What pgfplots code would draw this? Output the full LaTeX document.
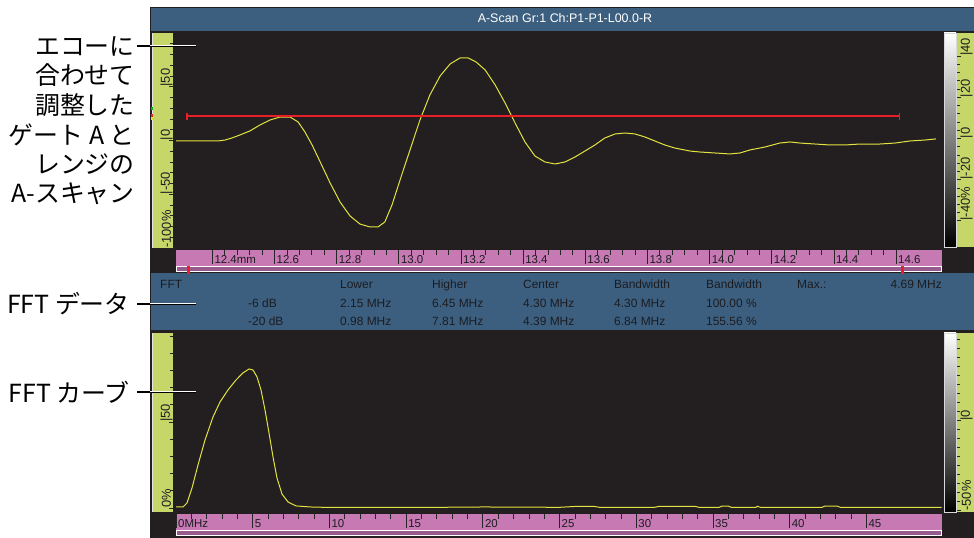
\documentclass[border=0pt]{standalone}
\usepackage{pgfplots}
\pgfplotsset{compat=1.18}
\usepackage{fontspec}
\setmainfont{Liberation Sans}
\newfontfamily\jp{Noto Sans CJK JP}
\definecolor{panelbg}{RGB}{35,31,32}
\definecolor{bluebar}{RGB}{60,95,128}
\definecolor{yel}{RGB}{199,214,104}
\definecolor{rpink}{RGB}{199,121,180}
\definecolor{mauve}{RGB}{150,90,140}
\definecolor{trace}{RGB}{226,226,64}
\definecolor{gatered}{RGB}{232,30,40}
\definecolor{txtdark}{RGB}{28,28,32}
\pgfplotsset{
  ruler/.style={scale only axis, anchor=south west, width=766bp, height=16bp,
    ymin=0, ymax=1, ytick=\empty, axis line style={draw=none},
    axis background/.style={fill=rpink},
    xtick pos=upper, xticklabel pos=lower, tick align=inside,
    major tick length=14bp, minor tick length=5bp, minor x tick num=4,
    tick style={black!85, line width=0.7bp},
    xticklabel style={font=\fontsize{11.5}{12}\selectfont, text=txtdark, anchor=base west, inner sep=0pt, xshift=2bp, yshift=2.5bp},
  },
  yscl/.style={scale only axis, anchor=south west, xmin=0, xmax=1, xtick=\empty,
    axis line style={draw=none}, axis background/.style={fill=yel},
    tick align=inside, major tick length=4bp, minor tick length=3bp,
    tick style={black!85, line width=0.7bp},
  },
  ylab/.style={yticklabel style={font=\fontsize{13}{13}\selectfont, text=txtdark, inner sep=0pt, anchor=west, xshift=#1, rotate=90}},
}
\begin{document}
\begin{tikzpicture}[x=1bp,y=1bp]
\fill[white] (0,0) rectangle (974,538);
% panel
\fill[panelbg] (150,0) rectangle (974,531);
\fill[bluebar] (151,507) rectangle (974,530);
\fill[bluebar] (151,208) rectangle (974,265);
\node[anchor=base, text=white, font=\fontsize{12.5}{13}\selectfont] at (565,515) {A-Scan Gr:1 Ch:P1-P1-L00.0-R};
% FFT data
\begin{scope}[every node/.style={anchor=base west, text=txtdark, inner sep=0pt, font=\fontsize{12}{12}\selectfont}]
\node at (160,249) {FFT};
\node at (340,249) {Lower};
\node at (432,249) {Higher};
\node at (523,249) {Center};
\node at (614,249) {Bandwidth};
\node at (706,249) {Bandwidth};
\node at (797,249) {Max.:};
\node[anchor=base east] at (942,249) {4.69 MHz};
\node at (248,230.5) {-6 dB};
\node at (340,230.5) {2.15 MHz};
\node at (432,230.5) {6.45 MHz};
\node at (523,230.5) {4.30 MHz};
\node at (614,230.5) {4.30 MHz};
\node at (706,230.5) {100.00 \%};
\node at (248,212.8) {-20 dB};
\node at (340,212.8) {0.98 MHz};
\node at (432,212.8) {7.81 MHz};
\node at (523,212.8) {4.39 MHz};
\node at (614,212.8) {6.84 MHz};
\node at (706,212.8) {155.56 \%};
\end{scope}
% gradient bars
\shade[top color=white, bottom color=black] (944,291) rectangle (956,505);
\draw[white!85!black, line width=0.8bp] (944,291) rectangle (956,505);
\shade[top color=white, bottom color=black] (944,26) rectangle (956,205);
\draw[white!85!black, line width=0.8bp] (944,26) rectangle (956,205);
% sliders
\draw[white, fill=mauve, line width=1bp] (176.5,266) rectangle (941.5,271);
\fill[gatered] (187,264) rectangle (190,273);
\fill[gatered] (901,264) rectangle (904,273);
\draw[white, fill=mauve, line width=1bp] (176.5,2) rectangle (941.5,7);
\draw[white!90!black, line width=0.8bp] (152,290) -- (152,505);
\draw[white!90!black, line width=0.8bp] (152,26) -- (152,205);
\fill[green!70!black] (151,428) rectangle (157,431);
\fill[gatered] (151,421) rectangle (157,424);
\fill[yel!60!yellow] (151,418) rectangle (157,421);

% top A-scan
\begin{axis}[at={(176bp,289bp)}, anchor=south west, scale only axis, width=766bp, height=216bp,
  xmin=12.283, xmax=14.748, ymin=-100, ymax=100, hide axis]
\addplot[trace, line width=1bp] coordinates {
(12.283,0) (12.360,0) (12.418,0) (12.441,0.9) (12.463,2.8) (12.489,5.6) (12.521,9.3)
(12.553,14.8) (12.585,19.4) (12.618,22.2) (12.650,22.2) (12.676,17.6) (12.698,8.3)
(12.721,-3.7) (12.747,-19.4) (12.779,-38.9) (12.811,-56.5) (12.843,-69.4) (12.875,-76.9)
(12.907,-79.6) (12.933,-79.6) (12.955,-75) (12.978,-59.3) (13.004,-36.1) (13.036,-8.3)
(13.068,19.4) (13.100,42.6) (13.133,60.2) (13.165,71.3) (13.197,76.9) (13.223,76.9)
(13.249,73.1) (13.278,65.7) (13.310,51.9) (13.342,35.2) (13.374,16.7) (13.406,-0.9)
(13.438,-13.9) (13.470,-19.4) (13.503,-21.3) (13.535,-19.4) (13.567,-14.8) (13.599,-9.3)
(13.631,-3.7) (13.663,2.8) (13.696,6.5) (13.728,7.4) (13.760,6.5) (13.792,3.7) (13.824,0)
(13.856,-3.7) (13.888,-6.5) (13.937,-9.3) (13.969,-10.2) (14.017,-11.1) (14.065,-12)
(14.098,-11.1) (14.130,-8.3) (14.178,-5.6) (14.226,-1.9) (14.259,-0.9) (14.291,-1.9)
(14.339,-2.8) (14.387,-3.7) (14.436,-3.7) (14.484,-2.8) (14.548,-2.8) (14.597,-1.9)
(14.645,0) (14.693,0.9) (14.728,1.9)};
\addplot[gatered, line width=2.7bp, mark=|, mark size=3.5bp, mark options={line width=1.4bp}]
 coordinates {(12.319,23.1) (14.612,23.1)};
\end{axis}

% top ruler
\begin{axis}[ruler, at={(176bp,272bp)}, xmin=12.283, xmax=14.748,
  xtick={12.4,12.6,12.8,13.0,13.2,13.4,13.6,13.8,14.0,14.2,14.4,14.6},
  xticklabels={12.4mm,12.6,12.8,13.0,13.2,13.4,13.6,13.8,14.0,14.2,14.4,14.6}]
\end{axis}

% bottom FFT
\begin{axis}[at={(176bp,25bp)}, anchor=south west, scale only axis, width=766bp, height=180bp,
  xmin=0, xmax=49.93, ymin=-2.9, ymax=101.7, hide axis]
\addplot[trace, line width=1bp] coordinates {
(0,0.6) (0.456,0.6) (0.717,2.9) (1.043,11.6) (1.434,25) (1.890,39.5) (2.412,52.9)
(2.868,61.6) (3.390,68.6) (3.911,74.4) (4.368,78.5) (4.759,80.8) (5.020,80.2)
(5.280,76.2) (5.541,68.6) (5.802,57) (6.063,43.6) (6.323,29.7) (6.584,17.4)
(6.910,8.1) (7.301,3.5) (7.823,1.2) (8.735,0.6) (10.04,0.3) (15,0.3) (19,0.5)
(20,0.6) (25,0.4) (26.2,1.0) (27.2,1.0) (27.6,0.4) (31.2,0.4) (31.5,1.0) (33.8,1.0)
(34.1,0.4) (35.4,0.4) (35.6,1.1) (36.0,1.1) (36.2,0.4) (37.8,0.4) (37.9,1.0)
(38.1,0.4) (42.1,0.4) (42.3,1.1) (43.1,1.1) (43.3,0.4) (49.9,0.4)};
\end{axis}

% bottom ruler
\begin{axis}[ruler, at={(176bp,8bp)}, xmin=0, xmax=49.93,
  xtick={0,5,10,15,20,25,30,35,40,45},
  xticklabels={0MHz,5,10,15,20,25,30,35,40,45}]
\end{axis}

% side scales
\begin{axis}[yscl, at={(153bp,290bp)}, width=20bp, height=215bp, ymin=-100, ymax=100,
  ytick={-100,-50,0,50}, yticklabels={-100\%,|-50,|0,|50},
  minor ytick={-90,-80,-70,-60,-40,-30,-20,-10,10,20,30,40,60,70,80,90},
  ytick pos=right, yticklabel pos=left, ylab=13.5bp]
\end{axis}
\begin{axis}[yscl, at={(957bp,291bp)}, width=17bp, height=214bp, ymin=-52.7, ymax=51.2,
  ytick={-40,-20,0,20,40}, yticklabels={|-40\%,|-20,|0,|20,|40},
  minor y tick num=4, ytick pos=left, yticklabel pos=left, ylab=9.5bp]
\end{axis}
\begin{axis}[yscl, at={(153bp,26bp)}, width=20bp, height=179bp, ymin=-2.3, ymax=101.7,
  ytick={0,50}, yticklabels={0\%,|50},
  minor ytick={10,20,30,40,60,70,80,90,100},
  ytick pos=right, yticklabel pos=left, ylab=13.5bp]
\end{axis}
\begin{axis}[yscl, at={(957bp,26bp)}, width=17bp, height=179bp, ymin=-50.7, ymax=48.7,
  ytick={-50,0}, yticklabels={-50\%,|0},
  minor ytick={-45,-40,-35,-30,-25,-20,-15,-10,-5,5,10,15,20,25,30,35,40,45},
  ytick pos=left, yticklabel pos=left, ylab=9.5bp]
\end{axis}

% annotations
\begin{scope}[every node/.style={anchor=east, inner sep=0pt, font=\jp\fontsize{25}{25}\selectfont}]
\node at (135,492) {エコーに};
\node at (135,462.5) {合わせて};
\node at (135,433) {調整した};
\node at (135,403.5) {ゲート A と};
\node at (135,374) {レンジの};
\node at (135,344.5) {A-スキャン};
\node at (130,234) {FFT データ};
\node at (130,146) {FFT カーブ};
\end{scope}
\foreach \yy in {492,234,146} {
  \draw[black, line width=1.8bp] (137,\yy) -- (151,\yy);
  \draw[black, line width=0.8bp, double=white, double distance=1bp] (150,\yy) -- (196,\yy);
}
\end{tikzpicture}
\end{document}
